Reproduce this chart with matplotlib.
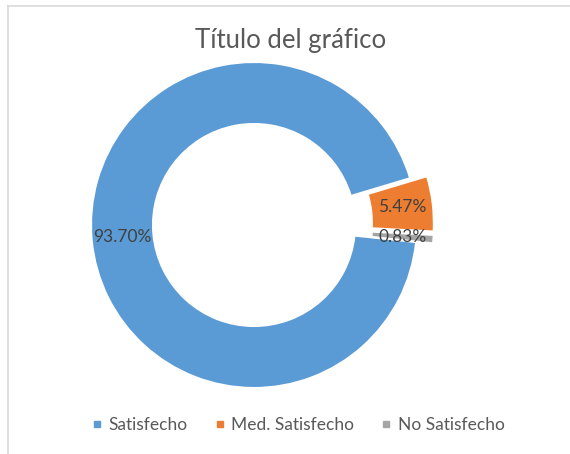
import matplotlib
matplotlib.use("Agg")
from matplotlib import pyplot as plt
from matplotlib.lines import Line2D

# data
categories = ["Satisfecho", "Med. Satisfecho", "No Satisfecho"]
values = [93.70, 5.47, 0.83]
colors = ["#5B9BD5", "#ED7D31", "#A5A5A5"]

plt.rcParams['font.family'] = ['Lato', 'DejaVu Sans']

fig = plt.figure(figsize=(5.7, 4.54), dpi=100)
ax = fig.add_axes([0, 0, 1, 1])

# pie drawn in pixel units: centre (254, 229 from bottom), radius 163
wedges, texts, autotexts = ax.pie(
    values, colors=colors, startangle=-6, counterclock=False,
    center=(254, 229), radius=163, explode=[0, 17, 17],
    autopct='%.2f%%', pctdistance=0.81,
    wedgeprops=dict(width=62, edgecolor='white', linewidth=1.5),
    textprops=dict(color='#404040', fontsize=12.5))

ax.set_xlim(0, 570)
ax.set_ylim(0, 454)
ax.axis('off')

fig.text(291 / 570, (454 - 48) / 454, "Título del gráfico", ha='center',
         va='baseline', fontsize=18.5, color='#595959')

handles = [Line2D([], [], marker='s', linestyle='none', markersize=5,
                  markerfacecolor=c, markeredgecolor=c) for c in colors]
fig.legend(handles, categories, loc='center', ncol=3,
           bbox_to_anchor=(298 / 570, 29 / 454), frameon=False,
           handlelength=0.7, handletextpad=0.3, columnspacing=1.5,
           fontsize=12.5, labelcolor='#595959')

# chart border (top and left only visible)
fig.add_artist(Line2D([8 / 570, 1], [1 - 6 / 454, 1 - 6 / 454],
                      color='#D9D9D9', linewidth=1.2))
fig.add_artist(Line2D([8 / 570, 8 / 570], [0, 1 - 6 / 454],
                      color='#D9D9D9', linewidth=1.2))

fig.savefig("out.png", dpi=100)
